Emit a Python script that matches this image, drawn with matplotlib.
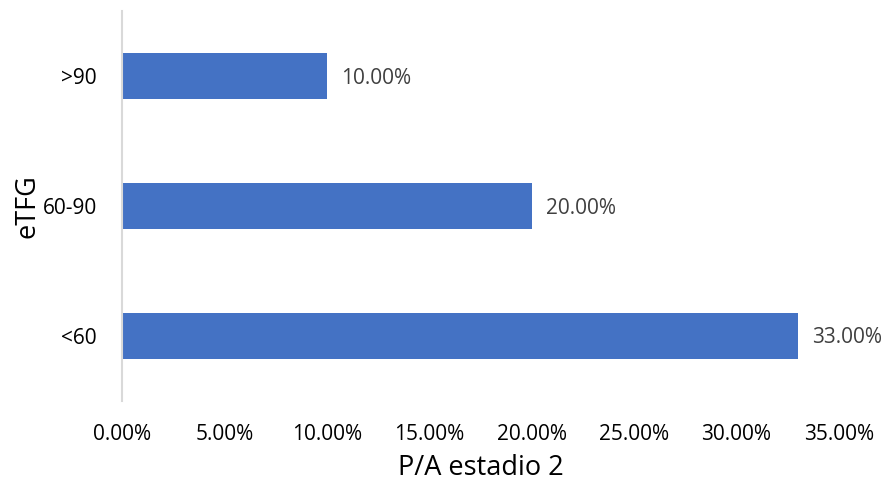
import matplotlib.pyplot as plt
from matplotlib.ticker import FuncFormatter

# data
categories = ["<60", "60-90", ">90"]
values = [0.33, 0.20, 0.10]
x_ticks = [0.0, 0.05, 0.10, 0.15, 0.20, 0.25, 0.30, 0.35]

plt.rcParams["font.family"] = ["Open Sans", "DejaVu Sans"]

fig = plt.figure(figsize=(8.84, 4.8), dpi=100)
ax = fig.add_axes([0.138, 0.165, 0.811, 0.812])

bars = ax.barh(categories, values, height=0.35, color="#4472C4")

# value labels to the right of each bar
for bar, v in zip(bars, values):
    ax.annotate(f"{v * 100:.2f}%", (bar.get_width(), bar.get_y() + bar.get_height() / 2),
                xytext=(10, -1.5), textcoords="offset points",
                va="center", ha="left", fontsize=15, color="#404040")

ax.set_xlim(0, 0.35)
ax.set_ylim(-0.5, 2.5)
ax.set_xticks(x_ticks)
ax.xaxis.set_major_formatter(FuncFormatter(lambda x, _: f"{x * 100:.2f}%"))

for side in ["top", "right", "bottom"]:
    ax.spines[side].set_visible(False)
ax.spines["left"].set_color("#D9D9D9")
ax.spines["left"].set_linewidth(1.5)

ax.tick_params(axis="x", length=0, pad=17, labelsize=15, labelcolor="#000000")
ax.tick_params(axis="y", length=0, pad=18, labelsize=15, labelcolor="#000000")

ax.set_xlabel("P/A estadio 2", fontsize=19.5, labelpad=6)
ax.set_ylabel("eTFG", fontsize=19.5, labelpad=1)

fig.savefig("out.png", dpi=100)
